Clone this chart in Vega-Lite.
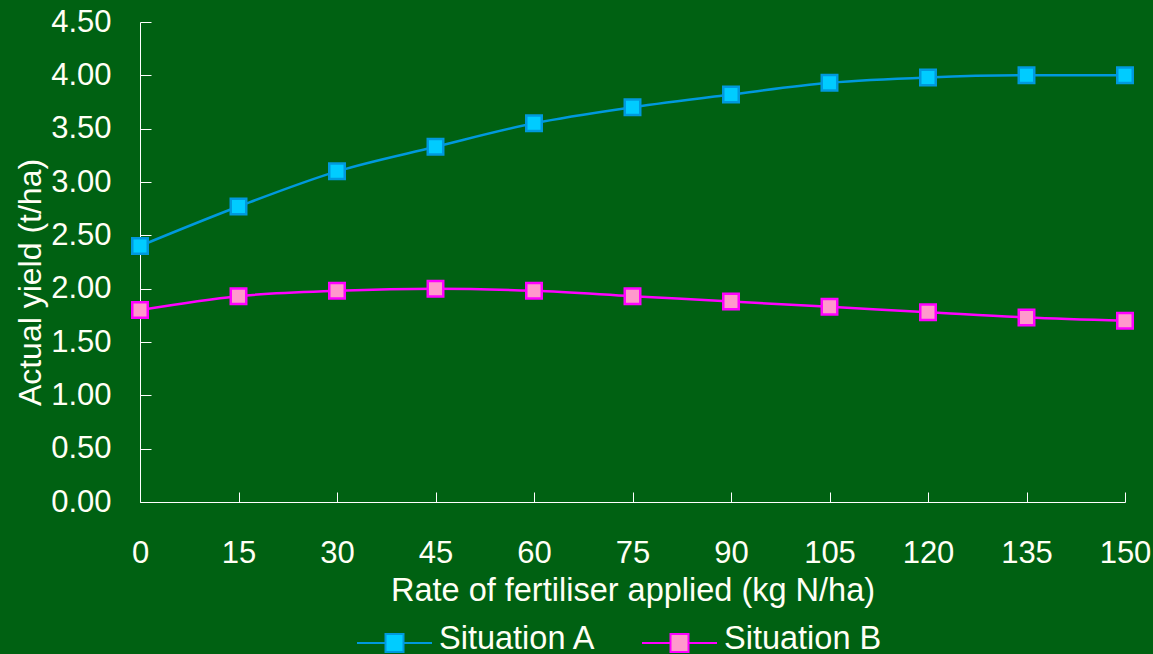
{
  "$schema": "https://vega.github.io/schema/vega-lite/v6.json",
  "width": 985,
  "height": 480,
  "autosize": {"type": "none"},
  "padding": {"left": 140, "top": 22, "right": 28, "bottom": 152},
  "background": "#006112",
  "config": {
    "view": {"stroke": null},
    "font": "Liberation Sans",
    "axis": {
      "domainColor": "#FFFFFF",
      "tickColor": "#FFFFFF",
      "labelColor": "#FFFFF5",
      "titleColor": "#FFFFF5",
      "labelFont": "Liberation Sans",
      "titleFont": "Liberation Sans",
      "labelFontSize": 31,
      "titleFontSize": 31,
      "titleFontWeight": "normal",
      "grid": false,
      "domainWidth": 1,
      "tickWidth": 1
    }
  },
  "data": {
    "values": [
      {"rate": 0, "yield": 2.40, "series": "Situation A"},
      {"rate": 15, "yield": 2.77, "series": "Situation A"},
      {"rate": 30, "yield": 3.10, "series": "Situation A"},
      {"rate": 45, "yield": 3.33, "series": "Situation A"},
      {"rate": 60, "yield": 3.55, "series": "Situation A"},
      {"rate": 75, "yield": 3.70, "series": "Situation A"},
      {"rate": 90, "yield": 3.82, "series": "Situation A"},
      {"rate": 105, "yield": 3.93, "series": "Situation A"},
      {"rate": 120, "yield": 3.98, "series": "Situation A"},
      {"rate": 135, "yield": 4.00, "series": "Situation A"},
      {"rate": 150, "yield": 4.00, "series": "Situation A"},
      {"rate": 0, "yield": 1.80, "series": "Situation B"},
      {"rate": 15, "yield": 1.93, "series": "Situation B"},
      {"rate": 30, "yield": 1.98, "series": "Situation B"},
      {"rate": 45, "yield": 2.00, "series": "Situation B"},
      {"rate": 60, "yield": 1.98, "series": "Situation B"},
      {"rate": 75, "yield": 1.93, "series": "Situation B"},
      {"rate": 90, "yield": 1.88, "series": "Situation B"},
      {"rate": 105, "yield": 1.83, "series": "Situation B"},
      {"rate": 120, "yield": 1.78, "series": "Situation B"},
      {"rate": 135, "yield": 1.73, "series": "Situation B"},
      {"rate": 150, "yield": 1.70, "series": "Situation B"}
    ]
  },
  "encoding": {
    "x": {
      "field": "rate",
      "type": "quantitative",
      "scale": {"domain": [0, 150], "nice": false, "zero": false},
      "axis": {
        "values": [0, 15, 30, 45, 60, 75, 90, 105, 120, 135, 150],
        "title": "Rate of fertiliser applied (kg N/ha)",
        "titleFontSize": 32.5,
        "tickSize": -10,
        "labelPadding": 46,
        "labelFlush": false,
        "labelOverlap": false,
        "titlePadding": 6
      }
    },
    "y": {
      "field": "yield",
      "type": "quantitative",
      "scale": {"domain": [0, 4.5], "nice": false},
      "axis": {
        "values": [0, 0.5, 1, 1.5, 2, 2.5, 3, 3.5, 4, 4.5],
        "format": ".2f",
        "title": "Actual yield (t/ha)",
        "titleFontSize": 32,
        "titleY": 260,
        "titleAlign": "center",
        "tickSize": -11,
        "labelPadding": 40,
        "labelFlush": false,
        "labelOverlap": false,
        "titlePadding": 3
      }
    }
  },
  "layer": [
    {
      "mark": {"type": "line", "interpolate": "monotone", "strokeWidth": 2.5},
      "encoding": {
        "stroke": {
          "field": "series",
          "type": "nominal",
          "scale": {"domain": ["Situation A", "Situation B"], "range": ["#0099DD", "#FF00FF"]},
          "legend": {
            "orient": "none",
            "legendX": 216,
            "legendY": 578,
            "direction": "horizontal",
            "title": null,
            "symbolType": "M-1,0.12H-0.24M0.24,0.12H1M-0.24,-0.12H0.24V0.36H-0.24Z",
            "symbolSize": 5625,
            "symbolStrokeWidth": 2,
            "labelFontSize": 32.5,
            "labelFont": "Liberation Sans",
            "labelColor": "#FFFFF5",
            "labelOffset": 6,
            "columnPadding": 41
          }
        }
      }
    },
    {
      "mark": {"type": "point", "shape": "square", "size": 240, "strokeWidth": 2.5, "opacity": 1, "filled": true},
      "encoding": {
        "fill": {
          "field": "series",
          "type": "nominal",
          "scale": {"domain": ["Situation A", "Situation B"], "range": ["#00CCFF", "#FF99CC"]}
        },
        "stroke": {"field": "series", "type": "nominal"}
      }
    }
  ]
}
